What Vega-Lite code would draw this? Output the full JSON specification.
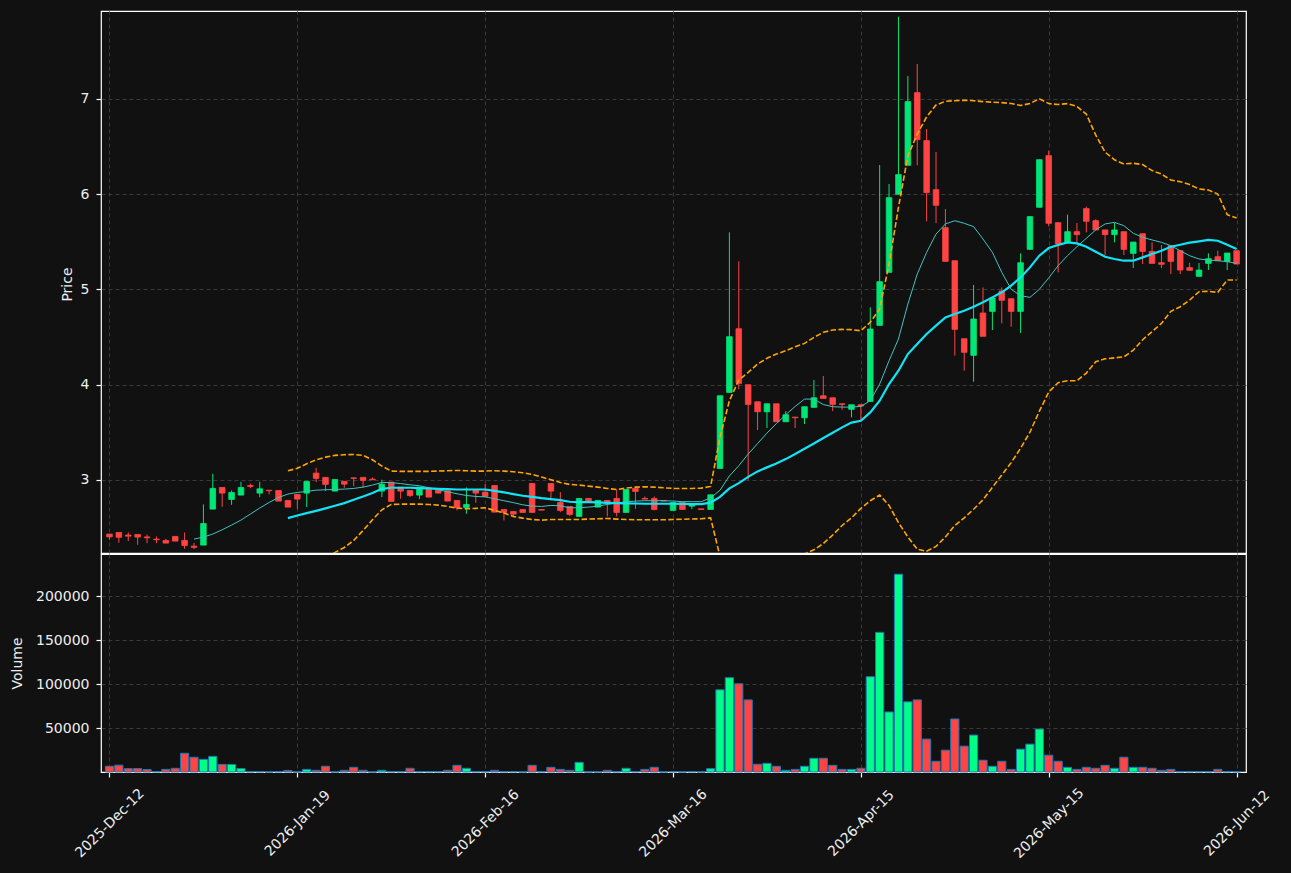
{
"$schema":"https://vega.github.io/schema/vega-lite/v6.json",
"background":"#111111",
"padding":{"left":9,"top":10,"right":18,"bottom":13},
"config":{
"font":"DejaVu Sans",
"view":{"stroke":"#ffffff","strokeWidth":1.2,"fill":"#111111"},
"axis":{"labelColor":"#eeeeee","titleColor":"#eeeeee","labelFont":"DejaVu Sans","titleFont":"DejaVu Sans","labelFontSize":14,"titleFontSize":14,"titleFontWeight":"normal","tickColor":"#ffffff","tickSize":5,"tickWidth":1.2,"labelPadding":7,"domain":false,"gridColor":"#3a3a3a","gridDash":[4,3],"gridWidth":1}
},
"datasets":{"k":[
{"i":0,"o":2.43,"h":2.43,"l":2.37,"c":2.40,"v":6500},
{"i":1,"o":2.447,"h":2.447,"l":2.338,"c":2.396,"v":7800},
{"i":2,"o":2.42,"h":2.447,"l":2.356,"c":2.408,"v":3800},
{"i":3,"o":2.426,"h":2.426,"l":2.317,"c":2.398,"v":4000},
{"i":4,"o":2.40,"h":2.426,"l":2.335,"c":2.39,"v":2800},
{"i":5,"o":2.377,"h":2.405,"l":2.335,"c":2.37,"v":600},
{"i":6,"o":2.363,"h":2.38,"l":2.335,"c":2.335,"v":3000},
{"i":7,"o":2.405,"h":2.405,"l":2.356,"c":2.356,"v":4200},
{"i":8,"o":2.363,"h":2.447,"l":2.275,"c":2.31,"v":21300},
{"i":9,"o":2.303,"h":2.338,"l":2.272,"c":2.29,"v":16800,"m10":2.377},
{"i":10,"o":2.314,"h":2.741,"l":2.314,"c":2.541,"v":14400,"m10":2.398},
{"i":11,"o":2.692,"h":3.063,"l":2.692,"c":2.909,"v":17800,"m10":2.43},
{"i":12,"o":2.919,"h":2.919,"l":2.716,"c":2.86,"v":8600,"m10":2.475},
{"i":13,"o":2.793,"h":2.888,"l":2.737,"c":2.867,"v":8600,"m10":2.524},
{"i":14,"o":2.839,"h":2.979,"l":2.839,"c":2.919,"v":4000,"m10":2.577},
{"i":15,"o":2.94,"h":2.96,"l":2.912,"c":2.93,"v":600,"m10":2.64},
{"i":16,"o":2.86,"h":2.979,"l":2.818,"c":2.905,"v":600,"m10":2.703},
{"i":17,"o":2.89,"h":2.89,"l":2.846,"c":2.885,"v":0,"m10":2.762},
{"i":18,"o":2.888,"h":2.888,"l":2.776,"c":2.776,"v":600,"m10":2.814},
{"i":19,"o":2.783,"h":2.783,"l":2.713,"c":2.713,"v":1800,"m10":2.85,"m20":2.597,"bu":3.095,"bl":2.10},
{"i":20,"o":2.846,"h":2.846,"l":2.695,"c":2.797,"v":0,"m10":2.867,"m20":2.625,"bu":3.12,"bl":2.12},
{"i":21,"o":2.86,"h":2.983,"l":2.713,"c":2.983,"v":3000,"m10":2.877,"m20":2.65,"bu":3.168,"bl":2.14},
{"i":22,"o":3.07,"h":3.126,"l":2.975,"c":3.014,"v":1900,"m10":2.891,"m20":2.674,"bu":3.21,"bl":2.16},
{"i":23,"o":3.025,"h":3.025,"l":2.881,"c":2.951,"v":6500,"m10":2.895,"m20":2.70,"bu":3.238,"bl":2.19},
{"i":24,"o":2.881,"h":3.003,"l":2.881,"c":3.003,"v":0,"m10":2.898,"m20":2.727,"bu":3.256,"bl":2.237},
{"i":25,"o":2.983,"h":2.983,"l":2.916,"c":2.954,"v":1900,"m10":2.902,"m20":2.755,"bu":3.263,"bl":2.289},
{"i":26,"o":3.02,"h":3.025,"l":2.933,"c":3.015,"v":5300,"m10":2.909,"m20":2.79,"bu":3.266,"bl":2.363},
{"i":27,"o":3.025,"h":3.025,"l":2.916,"c":2.993,"v":1900,"m10":2.923,"m20":2.825,"bu":3.256,"bl":2.468},
{"i":28,"o":3.007,"h":3.025,"l":3.0,"c":3.0,"v":0,"m10":2.944,"m20":2.86,"bu":3.21,"bl":2.58},
{"i":29,"o":2.881,"h":3.0,"l":2.818,"c":2.954,"v":1900,"m10":2.972,"m20":2.905,"bu":3.144,"bl":2.685},
{"i":30,"o":2.975,"h":2.975,"l":2.772,"c":2.772,"v":600,"m10":2.97,"m20":2.916,"bu":3.091,"bl":2.741},
{"i":31,"o":2.923,"h":2.923,"l":2.80,"c":2.881,"v":600,"m10":2.96,"m20":2.916,"bu":3.088,"bl":2.744},
{"i":32,"o":2.888,"h":2.888,"l":2.818,"c":2.835,"v":4200,"m10":2.947,"m20":2.916,"bu":3.088,"bl":2.744},
{"i":33,"o":2.839,"h":2.923,"l":2.797,"c":2.923,"v":600,"m10":2.937,"m20":2.912,"bu":3.088,"bl":2.744},
{"i":34,"o":2.905,"h":2.905,"l":2.818,"c":2.818,"v":600,"m10":2.916,"m20":2.909,"bu":3.088,"bl":2.741},
{"i":35,"o":2.891,"h":2.891,"l":2.86,"c":2.86,"v":600,"m10":2.895,"m20":2.905,"bu":3.091,"bl":2.734},
{"i":36,"o":2.884,"h":2.884,"l":2.776,"c":2.776,"v":1900,"m10":2.874,"m20":2.902,"bu":3.095,"bl":2.72},
{"i":37,"o":2.783,"h":2.783,"l":2.678,"c":2.706,"v":7600,"m10":2.853,"m20":2.898,"bu":3.098,"bl":2.703},
{"i":38,"o":2.709,"h":2.919,"l":2.643,"c":2.741,"v":4200,"m10":2.835,"m20":2.898,"bu":3.095,"bl":2.695},
{"i":39,"o":2.891,"h":2.891,"l":2.758,"c":2.86,"v":600,"m10":2.825,"m20":2.898,"bu":3.091,"bl":2.70},
{"i":40,"o":2.87,"h":2.958,"l":2.825,"c":2.825,"v":600,"m10":2.82,"m20":2.898,"bu":3.091,"bl":2.706},
{"i":41,"o":2.94,"h":2.94,"l":2.66,"c":2.66,"v":1900,"m10":2.80,"m20":2.884,"bu":3.095,"bl":2.678},
{"i":42,"o":2.688,"h":2.688,"l":2.573,"c":2.657,"v":600,"m10":2.78,"m20":2.867,"bu":3.091,"bl":2.65},
{"i":43,"o":2.667,"h":2.667,"l":2.608,"c":2.639,"v":600,"m10":2.76,"m20":2.85,"bu":3.084,"bl":2.615},
{"i":44,"o":2.688,"h":2.688,"l":2.657,"c":2.657,"v":0,"m10":2.737,"m20":2.832,"bu":3.074,"bl":2.597},
{"i":45,"o":2.961,"h":2.961,"l":2.657,"c":2.657,"v":7600,"m10":2.723,"m20":2.821,"bu":3.056,"bl":2.583},
{"i":46,"o":2.688,"h":2.688,"l":2.681,"c":2.681,"v":600,"m10":2.72,"m20":2.807,"bu":3.028,"bl":2.576},
{"i":47,"o":2.961,"h":2.961,"l":2.783,"c":2.881,"v":5300,"m10":2.73,"m20":2.797,"bu":3.0,"bl":2.583},
{"i":48,"o":2.762,"h":2.870,"l":2.66,"c":2.678,"v":3000,"m10":2.727,"m20":2.786,"bu":2.972,"bl":2.583},
{"i":49,"o":2.720,"h":2.720,"l":2.618,"c":2.636,"v":1900,"m10":2.706,"m20":2.769,"bu":2.951,"bl":2.583},
{"i":50,"o":2.615,"h":2.804,"l":2.615,"c":2.804,"v":11000,"m10":2.706,"m20":2.765,"bu":2.944,"bl":2.583},
{"i":51,"o":2.804,"h":2.804,"l":2.772,"c":2.772,"v":0,"m10":2.713,"m20":2.765,"bu":2.933,"bl":2.587},
{"i":52,"o":2.713,"h":2.783,"l":2.713,"c":2.783,"v":0,"m10":2.723,"m20":2.762,"bu":2.923,"bl":2.59},
{"i":53,"o":2.783,"h":2.783,"l":2.615,"c":2.762,"v":1900,"m10":2.741,"m20":2.758,"bu":2.909,"bl":2.594},
{"i":54,"o":2.804,"h":2.895,"l":2.615,"c":2.657,"v":600,"m10":2.755,"m20":2.755,"bu":2.898,"bl":2.587},
{"i":55,"o":2.657,"h":2.898,"l":2.657,"c":2.898,"v":4200,"m10":2.769,"m20":2.753,"bu":2.912,"bl":2.583},
{"i":56,"o":2.909,"h":2.909,"l":2.695,"c":2.877,"v":600,"m10":2.776,"m20":2.751,"bu":2.923,"bl":2.58},
{"i":57,"o":2.804,"h":2.825,"l":2.797,"c":2.797,"v":3000,"m10":2.78,"m20":2.748,"bu":2.926,"bl":2.58},
{"i":58,"o":2.804,"h":2.825,"l":2.678,"c":2.688,"v":5300,"m10":2.78,"m20":2.748,"bu":2.923,"bl":2.58},
{"i":59,"o":2.783,"h":2.783,"l":2.776,"c":2.776,"v":0,"m10":2.78,"m20":2.748,"bu":2.916,"bl":2.58},
{"i":60,"o":2.678,"h":2.762,"l":2.678,"c":2.762,"v":600,"m10":2.777,"m20":2.748,"bu":2.909,"bl":2.583},
{"i":61,"o":2.762,"h":2.762,"l":2.688,"c":2.688,"v":0,"m10":2.77,"m20":2.746,"bu":2.909,"bl":2.585},
{"i":62,"o":2.723,"h":2.744,"l":2.692,"c":2.744,"v":600,"m10":2.77,"m20":2.745,"bu":2.909,"bl":2.588},
{"i":63,"o":2.695,"h":2.695,"l":2.688,"c":2.688,"v":0,"m10":2.77,"m20":2.745,"bu":2.912,"bl":2.59},
{"i":64,"o":2.688,"h":2.842,"l":2.688,"c":2.842,"v":3800,"m10":2.81,"m20":2.76,"bu":2.93,"bl":2.60},
{"i":65,"o":3.119,"h":3.882,"l":3.119,"c":3.882,"v":93500,"m10":2.89,"m20":2.82,"bu":3.445,"bl":2.195},
{"i":66,"o":3.917,"h":5.598,"l":3.917,"c":4.502,"v":107300,"m10":3.04,"m20":2.91,"bu":3.83,"bl":1.99},
{"i":67,"o":4.586,"h":5.293,"l":3.95,"c":4.012,"v":100400,"m10":3.147,"m20":2.965,"bu":4.047,"bl":1.883},
{"i":68,"o":3.998,"h":3.998,"l":3.0,"c":3.791,"v":82000,"m10":3.27,"m20":3.03,"bu":4.127,"bl":1.933},
{"i":69,"o":3.819,"h":3.819,"l":3.522,"c":3.714,"v":8800,"m10":3.38,"m20":3.088,"bu":4.215,"bl":1.961},
{"i":70,"o":3.714,"h":3.798,"l":3.543,"c":3.798,"v":9900,"m10":3.49,"m20":3.13,"bu":4.275,"bl":1.985},
{"i":71,"o":3.798,"h":3.798,"l":3.609,"c":3.609,"v":6500,"m10":3.59,"m20":3.17,"bu":4.32,"bl":2.02},
{"i":72,"o":3.609,"h":3.721,"l":3.609,"c":3.683,"v":1900,"m10":3.683,"m20":3.217,"bu":4.355,"bl":2.079},
{"i":73,"o":3.658,"h":3.658,"l":3.543,"c":3.651,"v":3000,"m10":3.77,"m20":3.27,"bu":4.397,"bl":2.143},
{"i":74,"o":3.651,"h":3.767,"l":3.585,"c":3.767,"v":6500,"m10":3.847,"m20":3.326,"bu":4.432,"bl":2.22},
{"i":75,"o":3.760,"h":4.047,"l":3.760,"c":3.861,"v":15600,"m10":3.847,"m20":3.38,"bu":4.495,"bl":2.265},
{"i":76,"o":3.882,"h":4.089,"l":3.854,"c":3.854,"v":15600,"m10":3.79,"m20":3.438,"bu":4.548,"bl":2.33},
{"i":77,"o":3.861,"h":3.861,"l":3.721,"c":3.791,"v":7600,"m10":3.767,"m20":3.494,"bu":4.572,"bl":2.42},
{"i":78,"o":3.798,"h":3.798,"l":3.735,"c":3.791,"v":3000,"m10":3.763,"m20":3.55,"bu":4.579,"bl":2.52},
{"i":79,"o":3.739,"h":3.788,"l":3.655,"c":3.788,"v":3000,"m10":3.763,"m20":3.6,"bu":4.576,"bl":2.60},
{"i":80,"o":3.788,"h":3.788,"l":3.62,"c":3.774,"v":4200,"m10":3.77,"m20":3.62,"bu":4.565,"bl":2.70},
{"i":81,"o":3.823,"h":4.81,"l":3.823,"c":4.583,"v":108400,"m10":3.83,"m20":3.707,"bu":4.653,"bl":2.78},
{"i":82,"o":4.621,"h":6.305,"l":4.621,"c":5.08,"v":158800,"m10":4.005,"m20":3.83,"bu":4.793,"bl":2.84},
{"i":83,"o":5.178,"h":6.106,"l":5.178,"c":5.962,"v":68300,"m10":4.25,"m20":4.005,"bu":5.265,"bl":2.73},
{"i":84,"o":5.997,"h":7.863,"l":5.997,"c":6.204,"v":225000,"m10":4.478,"m20":4.145,"bu":5.86,"bl":2.55},
{"i":85,"o":6.302,"h":7.24,"l":6.302,"c":6.971,"v":79800,"m10":4.845,"m20":4.32,"bu":6.40,"bl":2.40},
{"i":86,"o":7.065,"h":7.366,"l":6.302,"c":6.571,"v":82000,"m10":5.16,"m20":4.425,"bu":6.63,"bl":2.27},
{"i":87,"o":6.561,"h":6.683,"l":5.714,"c":6.015,"v":37400,"m10":5.388,"m20":4.53,"bu":6.81,"bl":2.25},
{"i":88,"o":6.046,"h":6.442,"l":5.696,"c":5.882,"v":12200,"m10":5.58,"m20":4.618,"bu":6.935,"bl":2.30},
{"i":89,"o":5.647,"h":5.843,"l":5.293,"c":5.293,"v":24800,"m10":5.686,"m20":4.705,"bu":6.974,"bl":2.40},
{"i":90,"o":5.30,"h":5.30,"l":4.303,"c":4.579,"v":60300,"m10":5.72,"m20":4.74,"bu":6.98,"bl":2.52},
{"i":91,"o":4.481,"h":4.481,"l":4.145,"c":4.338,"v":29400,"m10":5.693,"m20":4.775,"bu":6.985,"bl":2.60},
{"i":92,"o":4.306,"h":5.045,"l":4.029,"c":4.688,"v":42000,"m10":5.658,"m20":4.817,"bu":6.98,"bl":2.69},
{"i":93,"o":4.751,"h":5.02,"l":4.506,"c":4.506,"v":13400,"m10":5.528,"m20":4.863,"bu":6.97,"bl":2.79},
{"i":94,"o":4.768,"h":4.908,"l":4.572,"c":4.908,"v":6500,"m10":5.388,"m20":4.915,"bu":6.965,"bl":2.92},
{"i":95,"o":4.982,"h":5.02,"l":4.642,"c":4.884,"v":12200,"m10":5.178,"m20":4.968,"bu":6.96,"bl":3.05},
{"i":96,"o":4.901,"h":4.901,"l":4.607,"c":4.768,"v":3000,"m10":5.0,"m20":5.038,"bu":6.95,"bl":3.18},
{"i":97,"o":4.768,"h":5.377,"l":4.541,"c":5.279,"v":26000,"m10":4.933,"m20":5.125,"bu":6.93,"bl":3.33},
{"i":98,"o":5.419,"h":5.763,"l":5.419,"c":5.763,"v":31700,"m10":4.915,"m20":5.23,"bu":6.95,"bl":3.50},
{"i":99,"o":5.861,"h":6.361,"l":5.861,"c":6.361,"v":48900,"m10":5.0,"m20":5.353,"bu":7.0,"bl":3.72},
{"i":100,"o":6.403,"h":6.456,"l":5.66,"c":5.693,"v":19100,"m10":5.12,"m20":5.433,"bu":6.95,"bl":3.92},
{"i":101,"o":5.70,"h":5.70,"l":5.178,"c":5.475,"v":12200,"m10":5.248,"m20":5.465,"bu":6.94,"bl":4.02},
{"i":102,"o":5.493,"h":5.784,"l":5.493,"c":5.605,"v":5300,"m10":5.353,"m20":5.493,"bu":6.95,"bl":4.04},
{"i":103,"o":5.605,"h":5.696,"l":5.482,"c":5.574,"v":3000,"m10":5.447,"m20":5.482,"bu":6.92,"bl":4.04},
{"i":104,"o":5.847,"h":5.868,"l":5.598,"c":5.714,"v":5300,"m10":5.535,"m20":5.447,"bu":6.84,"bl":4.12},
{"i":105,"o":5.721,"h":5.735,"l":5.623,"c":5.623,"v":4200,"m10":5.623,"m20":5.395,"bu":6.62,"bl":4.24},
{"i":106,"o":5.623,"h":5.623,"l":5.36,"c":5.574,"v":7600,"m10":5.686,"m20":5.342,"bu":6.44,"bl":4.27},
{"i":107,"o":5.574,"h":5.696,"l":5.493,"c":5.623,"v":4200,"m10":5.703,"m20":5.318,"bu":6.36,"bl":4.28},
{"i":108,"o":5.605,"h":5.605,"l":5.36,"c":5.419,"v":16800,"m10":5.668,"m20":5.30,"bu":6.316,"bl":4.29},
{"i":109,"o":5.377,"h":5.496,"l":5.223,"c":5.496,"v":5300,"m10":5.588,"m20":5.30,"bu":6.323,"bl":4.36},
{"i":110,"o":5.584,"h":5.584,"l":5.265,"c":5.398,"v":5300,"m10":5.546,"m20":5.335,"bu":6.31,"bl":4.47},
{"i":111,"o":5.398,"h":5.493,"l":5.272,"c":5.272,"v":4200,"m10":5.518,"m20":5.37,"bu":6.246,"bl":4.555},
{"i":112,"o":5.279,"h":5.465,"l":5.223,"c":5.262,"v":1900,"m10":5.493,"m20":5.405,"bu":6.21,"bl":4.642},
{"i":113,"o":5.458,"h":5.458,"l":5.16,"c":5.293,"v":3000,"m10":5.458,"m20":5.447,"bu":6.148,"bl":4.768},
{"i":114,"o":5.405,"h":5.405,"l":5.16,"c":5.202,"v":600,"m10":5.405,"m20":5.468,"bu":6.13,"bl":4.817},
{"i":115,"o":5.227,"h":5.279,"l":5.199,"c":5.199,"v":600,"m10":5.353,"m20":5.49,"bu":6.10,"bl":4.887},
{"i":116,"o":5.136,"h":5.276,"l":5.136,"c":5.202,"v":600,"m10":5.318,"m20":5.503,"bu":6.053,"bl":4.975},
{"i":117,"o":5.272,"h":5.377,"l":5.202,"c":5.321,"v":600,"m10":5.307,"m20":5.518,"bu":6.043,"bl":4.978},
{"i":118,"o":5.342,"h":5.405,"l":5.30,"c":5.30,"v":3000,"m10":5.30,"m20":5.51,"bu":6.0,"bl":4.968},
{"i":119,"o":5.293,"h":5.381,"l":5.202,"c":5.381,"v":600,"m10":5.29,"m20":5.468,"bu":5.784,"bl":5.097},
{"i":120,"o":5.405,"h":5.405,"l":5.265,"c":5.265,"v":600,"m10":5.272,"m20":5.423,"bu":5.748,"bl":5.097}
]},
"spacing":-3,
"vconcat":[
{
"width":1145,"height":542,
"data":{"name":"k"},
"encoding":{"x":{"field":"i","type":"quantitative","scale":{"domain":[-0.37,120.47],"nice":false,"zero":false},"axis":{"orient":"top","values":[0,20,40,60,80,100,120],"labels":false,"ticks":false,"tickSize":0,"labelPadding":0,"title":null,"grid":true}}},
"layer":[
{"mark":{"type":"rule","strokeWidth":1},
"encoding":{"y":{"field":"l","type":"quantitative","title":"Price","scale":{"domain":[2.231,7.922],"nice":false,"zero":false},"axis":{"values":[3,4,5,6,7],"format":"d","title":"Price","titleX":-34,"titleY":273,"titleAngle":-90,"titleAlign":"center","titleBaseline":"middle","grid":true}},
"y2":{"field":"h"},
"color":{"condition":{"test":"datum.c >= datum.o","value":"#00e676"},"value":"#ff4444"}}},
{"mark":{"type":"bar","width":5.6,"strokeWidth":0.8},
"encoding":{"y":{"field":"o","type":"quantitative","title":"Price","scale":{"domain":[2.231,7.922],"nice":false,"zero":false},"axis":{"values":[3,4,5,6,7],"format":"d","title":"Price","titleX":-34,"titleY":273,"titleAngle":-90,"titleAlign":"center","titleBaseline":"middle","grid":true}},
"y2":{"field":"c"},
"fill":{"condition":{"test":"datum.c >= datum.o","value":"#00e676"},"value":"#ff4444"},
"stroke":{"condition":{"test":"datum.c >= datum.o","value":"#00e676"},"value":"#ff4444"}}},
{"mark":{"type":"line","color":"#3fc4c0","strokeWidth":1,"clip":true},
"encoding":{"y":{"field":"m10","type":"quantitative","title":"Price","scale":{"domain":[2.231,7.922],"nice":false,"zero":false},"axis":{"values":[3,4,5,6,7],"format":"d","title":"Price","titleX":-34,"titleY":273,"titleAngle":-90,"titleAlign":"center","titleBaseline":"middle","grid":true}}}},
{"mark":{"type":"line","color":"#12e4f5","strokeWidth":2.2,"clip":true},
"encoding":{"y":{"field":"m20","type":"quantitative","title":"Price","scale":{"domain":[2.231,7.922],"nice":false,"zero":false},"axis":{"values":[3,4,5,6,7],"format":"d","title":"Price","titleX":-34,"titleY":273,"titleAngle":-90,"titleAlign":"center","titleBaseline":"middle","grid":true}}}},
{"mark":{"type":"line","color":"#ffa500","strokeWidth":1.6,"strokeDash":[5.5,2.4],"clip":true},
"encoding":{"y":{"field":"bu","type":"quantitative","title":"Price","scale":{"domain":[2.231,7.922],"nice":false,"zero":false},"axis":{"values":[3,4,5,6,7],"format":"d","title":"Price","titleX":-34,"titleY":273,"titleAngle":-90,"titleAlign":"center","titleBaseline":"middle","grid":true}}}},
{"mark":{"type":"line","color":"#ffa500","strokeWidth":1.6,"strokeDash":[5.5,2.4],"clip":true},
"encoding":{"y":{"field":"bl","type":"quantitative","title":"Price","scale":{"domain":[2.231,7.922],"nice":false,"zero":false},"axis":{"values":[3,4,5,6,7],"format":"d","title":"Price","titleX":-34,"titleY":273,"titleAngle":-90,"titleAlign":"center","titleBaseline":"middle","grid":true}}}}
]
},
{
"width":1145,"height":218,
"data":{"name":"k"},
"mark":{"type":"bar","width":8.2,"stroke":"#1f77b4","strokeWidth":1},
"encoding":{
"x":{"field":"i","type":"quantitative","scale":{"domain":[-0.37,120.47],"nice":false,"zero":false},"axis":{"values":[0,20,40,60,80,100,120],"labelExpr":"['2025-Dec-12','2026-Jan-19','2026-Feb-16','2026-Mar-16','2026-Apr-15','2026-May-15','2026-Jun-12'][round(datum.value/20)]","labelAngle":-45,"labelAlign":"center","labelBaseline":"middle","labelPadding":46,"labelFlush":false,"labelOverlap":false,"title":null,"grid":true}},
"y":{"field":"v","type":"quantitative","scale":{"domain":[0,248000],"nice":false},"axis":{"values":[50000,100000,150000,200000],"format":"d","title":"Volume","titleX":-84,"titleY":109,"titleAngle":-90,"titleAlign":"center","titleBaseline":"middle","grid":true}},
"fill":{"condition":{"test":"datum.c >= datum.o","value":"#00ff88"},"value":"#ff4444"}
}
}
]
}
